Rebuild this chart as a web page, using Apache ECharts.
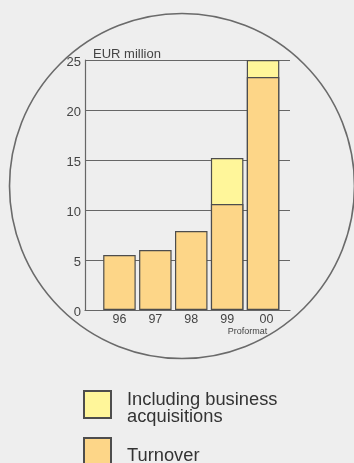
<!DOCTYPE html>
<html>
<head>
<meta charset="utf-8">
<script src="https://cdn.jsdelivr.net/npm/echarts@6/dist/echarts.min.js"></script>
<style>
  html, body { margin: 0; padding: 0; background: #eeeeee; }
  #chart { width: 354px; height: 463px; }
</style>
</head>
<body>
<div id="chart"></div>
<script>
// Turnover by year, EUR million
const years = ['96', '97', '98', '99', '00'];
const yearNotes = ['', '', '', '', 'Proformat'];
const turnover = [5.5, 6.0, 7.9, 10.6, 23.3];
const inclAcquisitions = [null, null, null, 15.2, 25.0];
const yTicks = { min: 0, max: 25, step: 5 };
const unitLabel = 'EUR million';
const seriesNames = ['Including business acquisitions', 'Turnover'];
const legendLines = [['Including business', 'acquisitions'], ['Turnover']];

const FONT = '"Liberation Sans", Arial, Helvetica, sans-serif';
const TEXT = '#444444';
const LINE = '#666666';
const ORANGE = '#fdd688';
const YELLOW = '#fff69a';
const EDGE = '#4d4d4d';

const chart = echarts.init(document.getElementById('chart'));

// a thin empty first line nudges the text block a little lower
const legendItem = (i, top) => ({
  orient: 'vertical',
  left: 83, top: top, padding: 0,
  itemWidth: 27, itemHeight: 27,
  icon: 'rect',
  data: [seriesNames[i]],
  formatter: () => '{s| }\n' + legendLines[i].map(l => `{t|${l}}`).join('\n'),
  textStyle: {
    padding: [0, 0, 0, 11],
    rich: {
      s: { fontSize: 4, lineHeight: 8 },
      t: { color: '#333333', fontSize: 18.3, lineHeight: 17.5, fontFamily: FONT }
    }
  }
});

chart.setOption({
  backgroundColor: '#eeeeee',
  textStyle: { fontFamily: FONT },
  animation: false,
  graphic: [{
    type: 'circle',
    z: -10,
    shape: { cx: 182, cy: 186, r: 172.5 },
    style: { fill: 'none', stroke: '#6a6a6a', lineWidth: 1.6 }
  }],
  grid: [
    { left: 85, top: 60, width: 205, height: 250 },
    { left: 101.5, top: 60, width: 179.5, height: 250 }
  ],
  xAxis: [
    {
      gridIndex: 0, type: 'category', data: years,
      axisLine: { show: true, lineStyle: { color: LINE, width: 1.2 } },
      axisTick: { show: false }, axisLabel: { show: false }, splitLine: { show: false }
    },
    {
      gridIndex: 1, type: 'category', data: years,
      axisLine: { show: false }, axisTick: { show: false },
      axisLabel: {
        interval: 0,
        margin: 3,
        formatter: (v, i) => yearNotes[i] ? `{b|${v}}\n{p|${yearNotes[i]}}` : `{a|${v}}`,
        rich: {
          a: { fontSize: 12.5, lineHeight: 13, color: TEXT, fontFamily: FONT },
          b: { fontSize: 12.5, lineHeight: 13, color: TEXT, fontFamily: FONT, padding: [0, 0, 0, 7] },
          p: { fontSize: 9, lineHeight: 11, color: TEXT, fontFamily: FONT, padding: [0, 31, 0, 0] }
        }
      }
    }
  ],
  yAxis: [
    {
      gridIndex: 0, type: 'value',
      min: yTicks.min, max: yTicks.max, interval: yTicks.step,
      name: unitLabel, nameLocation: 'end', nameGap: -1,
      nameTextStyle: { color: TEXT, fontSize: 13, align: 'left', fontFamily: FONT, padding: [0, 0, 0, 8] },
      axisLine: { show: true, lineStyle: { color: LINE, width: 1.2 } },
      axisTick: { show: false },
      axisLabel: {
        margin: 4,
        formatter: v => `{s| }\n{v|${v}}`,
        rich: {
          s: { fontSize: 4, lineHeight: 5 },
          v: { color: TEXT, fontSize: 13, lineHeight: 14, fontFamily: FONT }
        }
      },
      splitLine: { show: true, lineStyle: { color: LINE, width: 1.2 } }
    },
    {
      gridIndex: 1, type: 'value',
      min: yTicks.min, max: yTicks.max, interval: yTicks.step,
      show: false
    }
  ],
  legend: [legendItem(0, 385), legendItem(1, 437)],
  series: [
    {
      name: seriesNames[0], type: 'bar', xAxisIndex: 1, yAxisIndex: 1,
      data: inclAcquisitions, barWidth: 32.5,
      itemStyle: { color: YELLOW, borderColor: EDGE, borderWidth: 1.2 }
    },
    {
      name: seriesNames[1], type: 'bar', xAxisIndex: 1, yAxisIndex: 1,
      data: turnover, barWidth: 32.5, barGap: '-100%',
      itemStyle: { color: ORANGE, borderColor: EDGE, borderWidth: 1.2 }
    }
  ]
});
</script>
</body>
</html>
